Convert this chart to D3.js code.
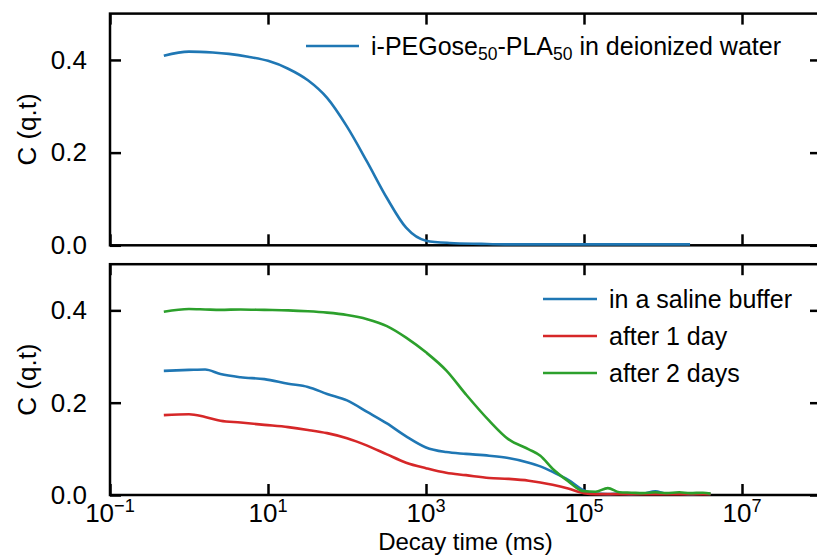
<!DOCTYPE html>
<html>
<head>
<meta charset="utf-8">
<script src="https://cdn.jsdelivr.net/npm/d3@7"></script>
<style>
  html, body { margin: 0; padding: 0; background: #fff; }
  svg { display: block; font-family: "Liberation Sans", Arial, Helvetica, sans-serif; }
</style>
</head>
<body>
<svg id="chart" width="817" height="555"></svg>
<script>
// Decay times (ms) for the deionized-water measurement
const waterTimes = [0.48, 1, 2, 3.2, 5.6, 10, 18, 32, 56, 100, 180, 320, 560, 1000, 2000, 5000, 10000, 1e5, 1e6, 2.2e6];
const waterC     = [0.409, 0.418, 0.416, 0.413, 0.407, 0.398, 0.381, 0.356, 0.318, 0.256, 0.180, 0.102, 0.038, 0.010, 0.005, 0.003, 0.002, 0.002, 0.002, 0.002];

// Decay times (ms) shared by the saline-buffer measurements
const bufferTimes = [0.48, 1, 1.6, 2.5, 4.5, 9, 18, 32, 56, 100, 180, 320, 560, 1000, 1800, 3200, 6300,
                     11000, 20000, 28000, 40000, 63000, 100000, 140000, 200000, 280000, 400000, 560000,
                     800000, 1.1e6, 1.6e6, 2.2e6, 3.2e6, 4e6];
const salineC = [0.269, 0.271, 0.272, 0.262, 0.255, 0.251, 0.241, 0.234, 0.219, 0.205, 0.180, 0.155, 0.127,
                 0.103, 0.093, 0.089, 0.085, 0.080, 0.070, 0.062, 0.050, 0.033, 0.010, 0.003, 0.002, 0.003,
                 0.002, 0.003, 0.008, 0.003, 0.003, 0.002, 0.003, 0.002];
const day1C   = [0.173, 0.175, 0.169, 0.161, 0.157, 0.152, 0.147, 0.141, 0.134, 0.123, 0.107, 0.088, 0.070,
                 0.058, 0.048, 0.043, 0.037, 0.035, 0.031, 0.027, 0.022, 0.014, 0.004, 0.002, 0.002, 0.002,
                 0.002, 0.002, 0.002, 0.002, 0.002, 0.002, 0.002, 0.002];
const day2C   = [0.397, 0.403, 0.402, 0.401, 0.402, 0.401, 0.400, 0.398, 0.395, 0.390, 0.381, 0.366, 0.341,
                 0.309, 0.270, 0.218, 0.161, 0.121, 0.099, 0.085, 0.057, 0.030, 0.008, 0.007, 0.015, 0.006,
                 0.005, 0.004, 0.006, 0.004, 0.006, 0.004, 0.005, 0.003];

const seriesNames  = ["in a saline buffer", "after 1 day", "after 2 days"];
const seriesColors = ["#1f77b4", "#d62728", "#2ca02c"];
const waterColor   = "#1f77b4";

const xTickValues = [1e-1, 1e1, 1e3, 1e5, 1e7];
const xTickExps   = ["\u22121", "1", "3", "5", "7"];
const yTickValues = [0, 0.2, 0.4];

const svg = d3.select("#chart");
const FONT = 26;
const left = 110, right = 821;

const x = d3.scaleLog().domain([1e-1, 1e8]).range([left, right]);

const panels = [
  { top: 13.6, bottom: 245.3 },
  { top: 264.2, bottom: 495 }
];
panels.forEach(p => {
  p.y = d3.scaleLinear().domain([0, 0.5]).range([p.bottom, p.top]);
});

function styleAxis(g) {
  g.select(".domain").remove();
  g.selectAll(".tick line").attr("stroke", "#000").attr("stroke-width", 2.5);
  g.selectAll(".tick text").attr("fill", "#000").attr("font-size", FONT).attr("font-family", null);
}

function drawFrame(p, withXLabels) {
  const g = svg.append("g");
  // inward ticks on all four sides
  g.append("g").attr("transform", `translate(0,${p.bottom})`)
    .call(d3.axisBottom(x).tickValues(xTickValues).tickSizeInner(-11).tickSizeOuter(0).tickFormat(""))
    .call(styleAxis);
  g.append("g").attr("transform", `translate(0,${p.top})`)
    .call(d3.axisTop(x).tickValues(xTickValues).tickSizeInner(-11).tickSizeOuter(0).tickFormat(""))
    .call(styleAxis);
  g.append("g").attr("transform", `translate(${left},0)`)
    .call(d3.axisLeft(p.y).tickValues(yTickValues).tickSizeInner(-11).tickSizeOuter(0)
      .tickPadding(23).tickFormat(d3.format(".1f")))
    .call(styleAxis);
  g.append("g").attr("transform", `translate(${right},0)`)
    .call(d3.axisRight(p.y).tickValues(yTickValues).tickSizeInner(-11).tickSizeOuter(0).tickFormat(""))
    .call(styleAxis);

  g.append("rect")
    .attr("x", left).attr("y", p.top)
    .attr("width", right - left).attr("height", p.bottom - p.top)
    .attr("fill", "none").attr("stroke", "#000").attr("stroke-width", 2.5);

  // y-axis title
  svg.append("text")
    .attr("transform", `translate(27,${(p.top + p.bottom) / 2}) rotate(-90)`)
    .attr("text-anchor", "middle").attr("dominant-baseline", "central")
    .attr("font-size", FONT).text("C (q.t)");

  if (withXLabels) {
    const lab = svg.append("g");
    xTickValues.forEach((v, i) => {
      const t = lab.append("text")
        .attr("x", x(v)).attr("y", 522)
        .attr("text-anchor", "middle").attr("font-size", FONT);
      t.append("tspan").text("10");
      t.append("tspan").attr("dy", -10).attr("font-size", FONT * 0.7).text(xTickExps[i]);
    });
  }
}

drawFrame(panels[0], false);
drawFrame(panels[1], true);

// x-axis title
svg.append("text")
  .attr("x", (left + right) / 2).attr("y", 549.5)
  .attr("text-anchor", "middle").attr("font-size", 24)
  .text("Decay time (ms)");

function lineFor(p, times) {
  return d3.line()
    .x((d, i) => x(times[i]))
    .y(d => p.y(d))
    .curve(d3.curveMonotoneX);
}

// top panel: deionized water
svg.append("path")
  .datum(waterC)
  .attr("d", lineFor(panels[0], waterTimes))
  .attr("fill", "none").attr("stroke", waterColor).attr("stroke-width", 2.6)
  .attr("stroke-linejoin", "round");

// bottom panel: saline buffer series (green drawn last, on top)
[salineC, day1C, day2C].forEach((vals, i) => {
  svg.append("path")
    .datum(vals)
    .attr("d", lineFor(panels[1], bufferTimes))
    .attr("fill", "none").attr("stroke", seriesColors[i]).attr("stroke-width", 2.6)
    .attr("stroke-linejoin", "round");
});

// legends
const LFONT = 25;
const lg1 = svg.append("g");
lg1.append("line").attr("x1", 306).attr("x2", 359).attr("y1", 46).attr("y2", 46)
  .attr("stroke", waterColor).attr("stroke-width", 2.6);
const lt = lg1.append("text").attr("x", 371).attr("y", 55).attr("font-size", LFONT);
lt.append("tspan").text("i-PEGose");
lt.append("tspan").attr("dy", 5).attr("font-size", LFONT * 0.7).text("50");
lt.append("tspan").attr("dy", -5).text("-PLA");
lt.append("tspan").attr("dy", 5).attr("font-size", LFONT * 0.7).text("50");
lt.append("tspan").attr("dy", -5).text(" in deionized water");

const lg2 = svg.append("g");
seriesNames.forEach((name, i) => {
  const yy = 299 + i * 37;
  lg2.append("line").attr("x1", 543).attr("x2", 597).attr("y1", yy).attr("y2", yy)
    .attr("stroke", seriesColors[i]).attr("stroke-width", 2.6);
  lg2.append("text").attr("x", 609).attr("y", yy + 9).attr("font-size", LFONT).text(name);
});
</script>
</body>
</html>
